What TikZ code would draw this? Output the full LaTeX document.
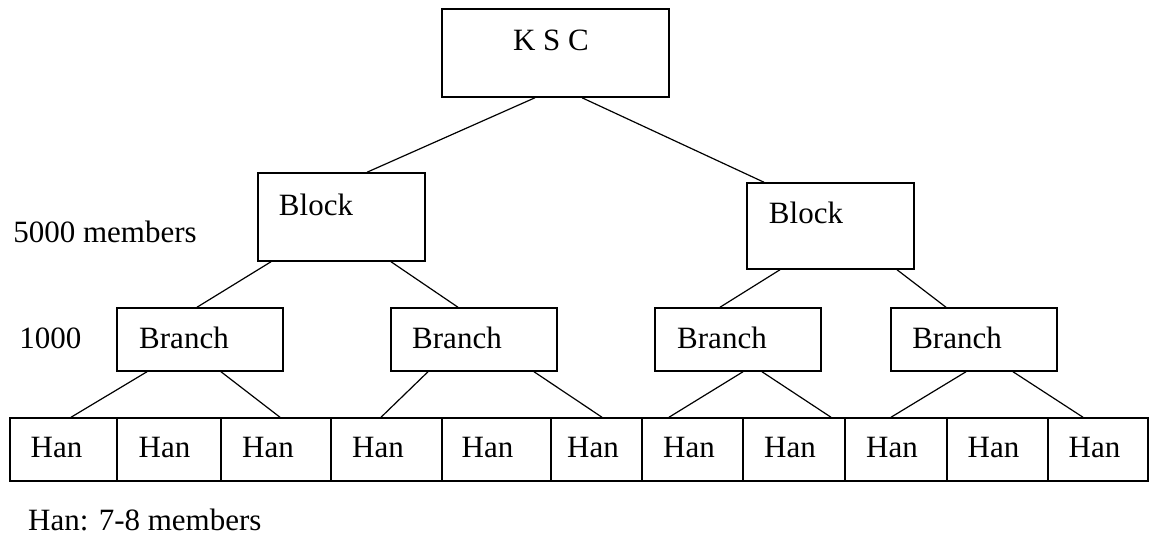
\documentclass[tikz,border=0pt]{standalone}
\usepackage{fontspec}
\setmainfont{Liberation Serif}
\begin{document}
\begin{tikzpicture}[x=1pt,y=-1pt,
  every node/.style={font=\fontsize{31}{37}\selectfont},
  box/.style={draw, line width=1.5pt, inner sep=0pt, rectangle},
  plain/.style={inner sep=0pt},
  link/.style={line width=1.2pt}]
\useasboundingbox (0,0) rectangle (1151,537);
% top
\node[box, minimum width=227pt, minimum height=88pt, label={[xshift=-4.5pt,yshift=13pt]center:K S C}] (ksc) at (555.5,53) {};
% blocks
\node[box, minimum width=167pt, minimum height=88pt, label={[xshift=-25.5pt,yshift=12pt]center:Block}] (bl) at (341.5,217) {};
\node[box, minimum width=167pt, minimum height=86pt, label={[xshift=-24.5pt,yshift=13pt]center:Block}] (br) at (830.5,226) {};
% branches
\node[box, minimum width=166pt, minimum height=63pt, label={[xshift=-16pt,yshift=1.5pt]center:Branch}] (b1) at (200,339.5) {};
\node[box, minimum width=166pt, minimum height=63pt, label={[xshift=-17pt,yshift=1.5pt]center:Branch}] (b2) at (474,339.5) {};
\node[box, minimum width=166pt, minimum height=63pt, label={[xshift=-16pt,yshift=1.5pt]center:Branch}] (b3) at (738,339.5) {};
\node[box, minimum width=166pt, minimum height=63pt, label={[xshift=-17pt,yshift=1.5pt]center:Branch}] (b4) at (974,339.5) {};
% hans
\node[box, minimum width=107pt, minimum height=63pt, label={[xshift=-7pt,yshift=2pt]center:Han}] (h1) at (63.5,449.5) {};
\node[box, minimum width=104pt, minimum height=63pt, label={[xshift=-4.5pt,yshift=2pt]center:Han}] (h2) at (169,449.5) {};
\node[box, minimum width=110pt, minimum height=63pt, label={[xshift=-8pt,yshift=2pt]center:Han}] (h3) at (276,449.5) {};
\node[box, minimum width=111pt, minimum height=63pt, label={[xshift=-8.5pt,yshift=2pt]center:Han}] (h4) at (386.5,449.5) {};
\node[box, minimum width=109pt, minimum height=63pt, label={[xshift=-9pt,yshift=2pt]center:Han}] (h5) at (496.5,449.5) {};
\node[box, minimum width=91pt, minimum height=63pt, label={[xshift=-3.5pt,yshift=2pt]center:Han}] (h6) at (596.5,449.5) {};
\node[box, minimum width=101pt, minimum height=63pt, label={[xshift=-3.5pt,yshift=2pt]center:Han}] (h7) at (692.5,449.5) {};
\node[box, minimum width=102pt, minimum height=63pt, label={[xshift=-4pt,yshift=2pt]center:Han}] (h8) at (794,449.5) {};
\node[box, minimum width=102pt, minimum height=63pt, label={[xshift=-4pt,yshift=2pt]center:Han}] (h9) at (896,449.5) {};
\node[box, minimum width=101pt, minimum height=63pt, label={[xshift=-4pt,yshift=2pt]center:Han}] (h10) at (997.5,449.5) {};
\node[box, minimum width=100pt, minimum height=63pt, label={[xshift=-3.5pt,yshift=2pt]center:Han}] (h11) at (1098,449.5) {};
% side texts
\node[plain] (m5000) at (105,232) {5000 members};
\node[plain] (m1000) at (50.5,338) {1000};
\node[plain, anchor=west] (legend) at (28,520) {Han: 7-8 members};
% links
\draw[link] ([xshift=-20.5pt]ksc.south) -- ([xshift=25.5pt]bl.north);
\draw[link] ([xshift=26.5pt]ksc.south) -- ([xshift=-66.5pt]br.north);
\draw[link] ([xshift=-70.5pt]bl.south) -- ([xshift=-3pt]b1.north);
\draw[link] ([xshift=49.5pt]bl.south) -- ([xshift=-16pt]b2.north);
\draw[link] ([xshift=-50.5pt]br.south) -- ([xshift=-18pt]b3.north);
\draw[link] ([xshift=66.5pt]br.south) -- ([xshift=-28pt]b4.north);
\draw[link] ([xshift=-53pt]b1.south) -- ([xshift=7.5pt]h1.north);
\draw[link] ([xshift=21pt]b1.south) -- ([xshift=4pt]h3.north);
\draw[link] ([xshift=-46pt]b2.south) -- ([xshift=-5.5pt]h4.north);
\draw[link] ([xshift=60pt]b2.south) -- ([xshift=5.5pt]h6.north);
\draw[link] ([xshift=5pt]b3.south) -- ([xshift=-23.5pt]h7.north);
\draw[link] ([xshift=24pt]b3.south) -- ([xshift=37pt]h8.north);
\draw[link] ([xshift=-8pt]b4.south) -- ([xshift=-5pt]h9.north);
\draw[link] ([xshift=39pt]b4.south) -- ([xshift=-15pt]h11.north);
\end{tikzpicture}
\end{document}
